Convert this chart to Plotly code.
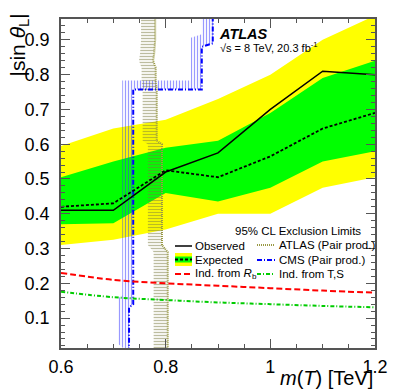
import plotly.graph_objects as go
import numpy as np

# mass points (TeV)
mass = [0.6, 0.7, 0.8, 0.9, 1.0, 1.1, 1.2]
observed = [0.41, 0.41, 0.52, 0.575, 0.70, 0.81, 0.80]
expected = [0.42, 0.43, 0.525, 0.505, 0.565, 0.645, 0.69]
sig1_lo = [0.37, 0.373, 0.46, 0.435, 0.475, 0.55, 0.58]
sig1_hi = [0.505, 0.55, 0.59, 0.61, 0.69, 0.79, 0.84]
sig2_lo = [0.31, 0.325, 0.355, 0.40, 0.40, 0.475, 0.505]
sig2_hi = [0.595, 0.645, 0.67, 0.73, 0.80, 0.90, 0.97]
ind_rb = [0.23, 0.21, 0.20, 0.193, 0.186, 0.179, 0.173]
ind_ts = [0.176, 0.16, 0.152, 0.145, 0.14, 0.135, 0.131]

# pair production limit contours
cms_x = [0.730, 0.730, 0.738, 0.738, 0.869, 0.869, 0.890, 0.890]
cms_y = [0.0, 0.13, 0.14, 0.757, 0.757, 0.88, 0.89, 1.0]
atl_x = [0.804, 0.804, 0.793, 0.793, 0.783, 0.783, 0.781, 0.781, 0.776, 0.778, 0.780, 0.780]
atl_y = [0.0, 0.29, 0.31, 0.60, 0.61, 0.76, 0.78, 0.82, 0.84, 0.86, 0.90, 1.0]

FONT = "Liberation Sans, Arial, sans-serif"
W, H = 407, 392
L, R, T, B = 61, 375, 19, 348


def px(x):
    return (x - L) / (R - L)


def py(y):
    return (B - y) / (B - T)


def band(xs, ys, dx, dy):
    # hatched band on the upper-left side of a limit contour
    ox = [x - dx for x in xs]
    oy = [y + dy for y in ys]
    return xs + ox[::-1] + [xs[0]], ys + oy[::-1] + [ys[0]]


fig = go.Figure()

fig.add_trace(go.Scatter(x=mass, y=sig2_lo, mode='lines', line=dict(width=0), showlegend=False))
fig.add_trace(go.Scatter(x=mass, y=sig2_hi, mode='lines', line=dict(width=0), fill='tonexty',
                         fillcolor='#ffff00', showlegend=False))
fig.add_trace(go.Scatter(x=mass, y=sig1_lo, mode='lines', line=dict(width=0), showlegend=False))
fig.add_trace(go.Scatter(x=mass, y=sig1_hi, mode='lines', line=dict(width=0), fill='tonexty',
                         fillcolor='#00ff00', showlegend=False))

# CMS hatched band + line
bx, by = band(cms_x, cms_y, 0.021, 0.026)
fig.add_trace(go.Scatter(x=bx, y=by, mode='lines', line=dict(width=0), fill='toself',
                         fillcolor='rgba(0,0,0,0)',
                         fillpattern=dict(shape='|', fgcolor='#3333ff', bgcolor='rgba(0,0,0,0)',
                                          size=3, solidity=0.4),
                         showlegend=False))
# ATLAS hatched band
bx, by = band(atl_x, atl_y, 0.027, 0.0)
fig.add_trace(go.Scatter(x=bx, y=by, mode='lines', line=dict(width=0), fill='toself',
                         fillcolor='rgba(0,0,0,0)',
                         fillpattern=dict(shape='-', fgcolor='#7a7a40', bgcolor='rgba(0,0,0,0)',
                                          size=3, solidity=0.45),
                         showlegend=False))

fig.add_trace(go.Scatter(x=cms_x, y=cms_y, mode='lines',
                         line=dict(color='#0000ff', width=2, dash='5px,2px,1px,2px'), showlegend=False))
fig.add_trace(go.Scatter(x=atl_x, y=atl_y, mode='lines',
                         line=dict(color='#999944', width=2, dash='1px,1px'), showlegend=False))

fig.add_trace(go.Scatter(x=mass, y=expected, mode='lines',
                         line=dict(color='black', width=1.8, dash='3px,2px'), showlegend=False))
fig.add_trace(go.Scatter(x=mass, y=observed, mode='lines',
                         line=dict(color='black', width=1.5), showlegend=False))
fig.add_trace(go.Scatter(x=mass, y=ind_rb, mode='lines', line_shape='spline',
                         line=dict(color='#ff0000', width=2, dash='6px,3px'), showlegend=False))
fig.add_trace(go.Scatter(x=mass, y=ind_ts, mode='lines', line_shape='spline',
                         line=dict(color='#00cc00', width=2, dash='4px,2px,1px,2px'), showlegend=False))

# legend drawn by hand (ROOT style)
shapes = []
ann = []


def leg_line(x0, x1, y, **line):
    shapes.append(dict(type='line', xref='paper', yref='paper', x0=px(x0), x1=px(x1),
                       y0=py(y), y1=py(y), line=line))


def leg_text(x, y, text, size=11.5, anchor='left'):
    ann.append(dict(xref='paper', yref='paper', x=px(x), y=py(y), text=text, showarrow=False,
                    xanchor=anchor, yanchor='middle', font=dict(family=FONT, size=size, color='black')))


leg_text(363, 231, '95% CL Exclusion Limits', anchor='right')
leg_line(175, 192, 246, color='black', width=1.5)
leg_text(193, 246, 'Observed')
shapes.append(dict(type='rect', xref='paper', yref='paper', x0=px(175), x1=px(192), y0=py(266), y1=py(253),
                   fillcolor='#ffff00', line=dict(width=0)))
shapes.append(dict(type='rect', xref='paper', yref='paper', x0=px(175), x1=px(192), y0=py(262.5), y1=py(256.5),
                   fillcolor='#00ff00', line=dict(width=0)))
leg_line(175, 192, 259.5, color='black', width=1.8, dash='3px,2px')
leg_text(193, 260, 'Expected')
leg_line(175, 192, 274, color='#ff0000', width=2, dash='6px,3px')
leg_text(193, 274, 'Ind. from <i>R</i><sub>b</sub>')
leg_line(257, 275, 245, color='#999944', width=2, dash='1px,1px')
leg_text(277, 245, 'ATLAS (Pair prod.)')
leg_line(257, 275, 260, color='#0000ff', width=2, dash='5px,2px,1px,2px')
leg_text(277, 260, 'CMS (Pair prod.)')
leg_line(257, 275, 274, color='#00cc00', width=2, dash='4px,2px,1px,2px')
leg_text(277, 274, 'Ind. from T,S')

ann.append(dict(xref='paper', yref='paper', x=px(217), y=py(34), text='<b><i>ATLAS</i></b>',
                showarrow=False, xanchor='left', yanchor='middle',
                font=dict(family=FONT, size=14.5, color='black')))
ann.append(dict(xref='paper', yref='paper', x=px(218), y=py(47), text='√s = 8 TeV, 20.3 fb<sup>-1</sup>',
                showarrow=False, xanchor='left', yanchor='middle',
                font=dict(family=FONT, size=11, color='black')))

# axis titles
ann.append(dict(xref='paper', yref='paper', x=px(375), y=py(378), text='<i>m</i>(<i>T</i>) [TeV]',
                showarrow=False, xanchor='right', yanchor='middle',
                font=dict(family=FONT, size=20, color='black')))
ann.append(dict(xref='paper', yref='paper', x=px(18), y=py(12), text='|sin <i>θ</i><sub>L</sub>|',
                showarrow=False, xanchor='center', yanchor='top', textangle=-90,
                font=dict(family=FONT, size=21, color='black')))

axcol = '#555555'
fig.update_layout(
    width=W, height=H,
    margin=dict(l=L, r=W - R, t=T, b=H - B),
    plot_bgcolor='white', paper_bgcolor='white',
    font=dict(family=FONT, size=18, color='black'),
    shapes=shapes, annotations=ann,
    xaxis=dict(range=[0.6, 1.2], tickmode='array', tickvals=[0.6, 0.8, 1.0, 1.2],
               ticktext=['0.6', '0.8', '1', '1.2'], ticks='inside', ticklen=9, tickwidth=1,
               tickcolor=axcol, showline=True, linecolor=axcol, linewidth=1.5, mirror='allticks',
               showgrid=False, zeroline=False, ticklabelstandoff=2,
               minor=dict(tickmode='linear', tick0=0.6, dtick=0.05, ticks='inside', ticklen=4.5,
                          tickcolor=axcol, showgrid=False)),
    yaxis=dict(range=[0.014, 0.96], tickmode='array',
               tickvals=[0.1, 0.2, 0.3, 0.4, 0.5, 0.6, 0.7, 0.8, 0.9],
               ticktext=['0.1', '0.2', '0.3', '0.4', '0.5', '0.6', '0.7', '0.8', '0.9'],
               ticks='inside', ticklen=9, tickwidth=1, tickcolor=axcol, showline=True,
               linecolor=axcol, linewidth=1.5, mirror='allticks', showgrid=False, zeroline=False,
               ticklabelstandoff=6,
               minor=dict(tickmode='linear', tick0=0.0, dtick=0.02, ticks='inside', ticklen=4.5,
                          tickcolor=axcol, showgrid=False)),
)

# page body has a default 8px margin; drop it so the figure sits at the window origin
fig.write_html("out.html", config={'displayModeBar': False},
               post_script="document.body.style.margin='0';")
